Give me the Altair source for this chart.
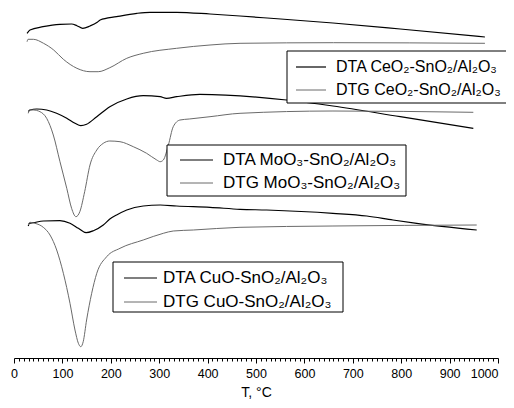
import altair as alt
import pandas as pd

# ---- data (T in °C, signal in arbitrary units) ----
t_dta_ce = [27, 33, 60, 95, 119, 130, 142, 157, 172, 178, 212, 254, 281, 336, 405, 467, 523, 659, 798, 973]
s_dta_ce = [324.7, 328, 331.3, 333.7, 334, 332.3, 329.7, 332, 335.7, 338, 341.3, 344.7, 345.7, 345.7, 344, 342, 340, 335, 329, 321]

t_dtg_ce = [27, 29, 40, 61, 82, 102, 130, 157, 174, 198, 233, 267, 336, 405, 467, 660, 973]
s_dtg_ce = [316.3, 318.7, 318.7, 314.7, 308, 298.7, 289.7, 286.3, 286.3, 290.3, 299.7, 304.7, 309.7, 313, 314.7, 315.3, 314.7]

t_dta_mo = [29.5, 33, 47, 67.5, 88, 109, 126, 138, 150, 171, 198, 233, 267, 302, 315, 336, 384, 563, 659, 798, 949]
s_dta_mo = [246.3, 248, 249, 248, 244.7, 239.7, 234.7, 232.3, 233.7, 241.3, 251.3, 259, 262.3, 261.3, 259.7, 261.3, 263.7, 258, 252, 241.3, 229.7]

t_dtg_mo = [29.5, 31.6, 40, 53.7, 67.5, 81.2, 95, 109, 119, 128, 136, 146, 157, 171, 184.5, 198, 219, 246.5, 274, 295, 302, 308.5, 319, 329, 343, 362, 405, 467, 659, 949]
s_dtg_mo = [244.7, 248, 248, 246.3, 239.7, 223, 196.3, 169.7, 149.7, 141.3, 146.3, 166.3, 193, 208, 214.7, 217, 216.3, 211.3, 204.7, 198, 196.3, 198, 213, 231.3, 238, 239, 241.3, 244.7, 247, 245.7]

t_dta_cu = [29.5, 31.6, 40, 60.5, 95, 115.7, 133, 149, 164, 184.5, 198, 212, 233, 267, 302, 336, 405, 467, 522, 659, 729, 783, 832, 956]
s_dta_cu = [132, 134.7, 135.3, 137, 137.3, 134.7, 129.7, 125.3, 127.3, 133, 139, 143, 148, 152, 153, 152, 150.7, 148.7, 148, 144.7, 142, 138, 134.7, 128]

t_dtg_cu = [29.5, 33, 43.4, 60.5, 74.4, 88.2, 102, 115.7, 126, 133, 138, 143, 150, 160.5, 171, 191.5, 219, 267, 308.5, 329, 370.5, 467, 659, 956]
s_dtg_cu = [133, 135.7, 134.7, 130.7, 123, 108, 84.7, 54.7, 28, 14.7, 11.3, 16.3, 38, 64.7, 84.7, 101.3, 109.7, 118, 124.7, 127, 128, 130.7, 132, 133]

series_labels = [
    "DTA CeO₂-SnO₂/Al₂O₃", "DTG CeO₂-SnO₂/Al₂O₃",
    "DTA MoO₃-SnO₂/Al₂O₃", "DTG MoO₃-SnO₂/Al₂O₃",
    "DTA CuO-SnO₂/Al₂O₃", "DTG CuO-SnO₂/Al₂O₃",
]
x_ticks = list(range(0, 1001, 10))
x_title = "T, °C"

def frame(ts, ss, name):
    return pd.DataFrame({"T": ts, "v": ss, "series": name})

dta = pd.concat([
    frame(t_dta_ce, s_dta_ce, series_labels[0]),
    frame(t_dta_mo, s_dta_mo, series_labels[2]),
    frame(t_dta_cu, s_dta_cu, series_labels[4]),
])
dtg = pd.concat([
    frame(t_dtg_ce, s_dtg_ce, series_labels[1]),
    frame(t_dtg_mo, s_dtg_mo, series_labels[3]),
    frame(t_dtg_cu, s_dtg_cu, series_labels[5]),
])

FONT = "Liberation Sans"
BLACK = "#000000"
GRAY = "#6a6a6a"
CHART_W = 498   # total svg width = page body width
CHART_H = 392
LEFT = 6
PLOT_W = 484
PLOT_H = 350

x_enc = alt.X(
    "T:Q",
    scale=alt.Scale(domain=[0, 1000], nice=False, zero=False),
    axis=alt.Axis(
        values=x_ticks,
        labelExpr="datum.value % 100 === 0 ? datum.label : ''",
        tickSize={"condition": {"test": "datum.value % 100 === 0", "value": 5}, "value": 3},
        labelAlign={"condition": {"test": "datum.value === 1000", "value": "right"}, "value": "center"},
        labelFlush=False,
        labelOverlap=False,
        labelPadding=4,
        grid=False,
        title=x_title,
        titlePadding=6,
        domainColor=BLACK,
        tickColor=BLACK,
        labelColor=BLACK,
        titleColor=BLACK,
        labelFont=FONT,
        titleFont=FONT,
        labelFontSize=12.5,
        titleFontSize=14,
        titleFontWeight="normal",
        format="d",
    ),
)
y_enc = alt.Y("v:Q", scale=alt.Scale(domain=[0, 350], nice=False, zero=False), axis=None)

dta_lines = alt.Chart(dta).mark_line(color=BLACK, strokeWidth=1.2, interpolate="monotone").encode(
    x=x_enc, y=y_enc, detail="series:N")
dtg_lines = alt.Chart(dtg).mark_line(color=GRAY, strokeWidth=1.0, interpolate="monotone").encode(
    x=x_enc, y=y_enc, detail="series:N")

one = alt.Data(values=[{}])

# legend boxes: pixel positions inside the plot area
boxes = [  # x, x2, y, y2, line x, line x2, text x, row1 y, row2 y, font size, open right side
    (273, CHART_W - LEFT + 4, 43, 95, 282, 312, 322, 59, 82, 16, True),
    (153, 392, 137, 188, 166, 199, 209, 152, 175, 17, False),
    (99, 329, 254, 304, 110, 143, 149, 270, 294, 17, False),
]
legend_layers = []
for i, (bx, bx2, by, by2, lx, lx2, tx, r1, r2, fs, open_right) in enumerate(boxes):
    if open_right:
        legend_layers.append(
            alt.Chart(one).mark_rect(fill="white").encode(
                x=alt.value(bx), x2=alt.value(bx2), y=alt.value(by), y2=alt.value(by2))
        )
        for (ex, ex2, ey, ey2) in [(bx, bx2, by, by), (bx, bx2, by2, by2), (bx, bx, by, by2)]:
            legend_layers.append(
                alt.Chart(one).mark_rule(color=BLACK, strokeWidth=1).encode(
                    x=alt.value(ex), x2=alt.value(ex2), y=alt.value(ey), y2=alt.value(ey2))
            )
    else:
        legend_layers.append(
            alt.Chart(one).mark_rect(fill="white", stroke=BLACK, strokeWidth=1).encode(
                x=alt.value(bx), x2=alt.value(bx2), y=alt.value(by), y2=alt.value(by2))
        )
    for j, (ry, col, sw) in enumerate([(r1, BLACK, 1.2), (r2, GRAY, 1.0)]):
        legend_layers.append(
            alt.Chart(one).mark_rule(color=col, strokeWidth=sw).encode(
                x=alt.value(lx), x2=alt.value(lx2), y=alt.value(ry))
        )
        legend_layers.append(
            alt.Chart(one).mark_text(align="left", baseline="middle", font=FONT, fontSize=fs, color=BLACK).encode(
                x=alt.value(tx), y=alt.value(ry), text=alt.value(series_labels[2 * i + j]))
        )

chart = alt.layer(dta_lines, dtg_lines, *legend_layers).properties(
    width=PLOT_W,
    height=PLOT_H,
    autosize=alt.AutoSizeParams(type="none"),
    padding={"left": LEFT, "top": 0, "right": CHART_W - LEFT - PLOT_W, "bottom": CHART_H - PLOT_H},
    background="white",
).configure_view(stroke=None)

chart.save("out.html", embed_options={"renderer": "svg", "actions": False})
